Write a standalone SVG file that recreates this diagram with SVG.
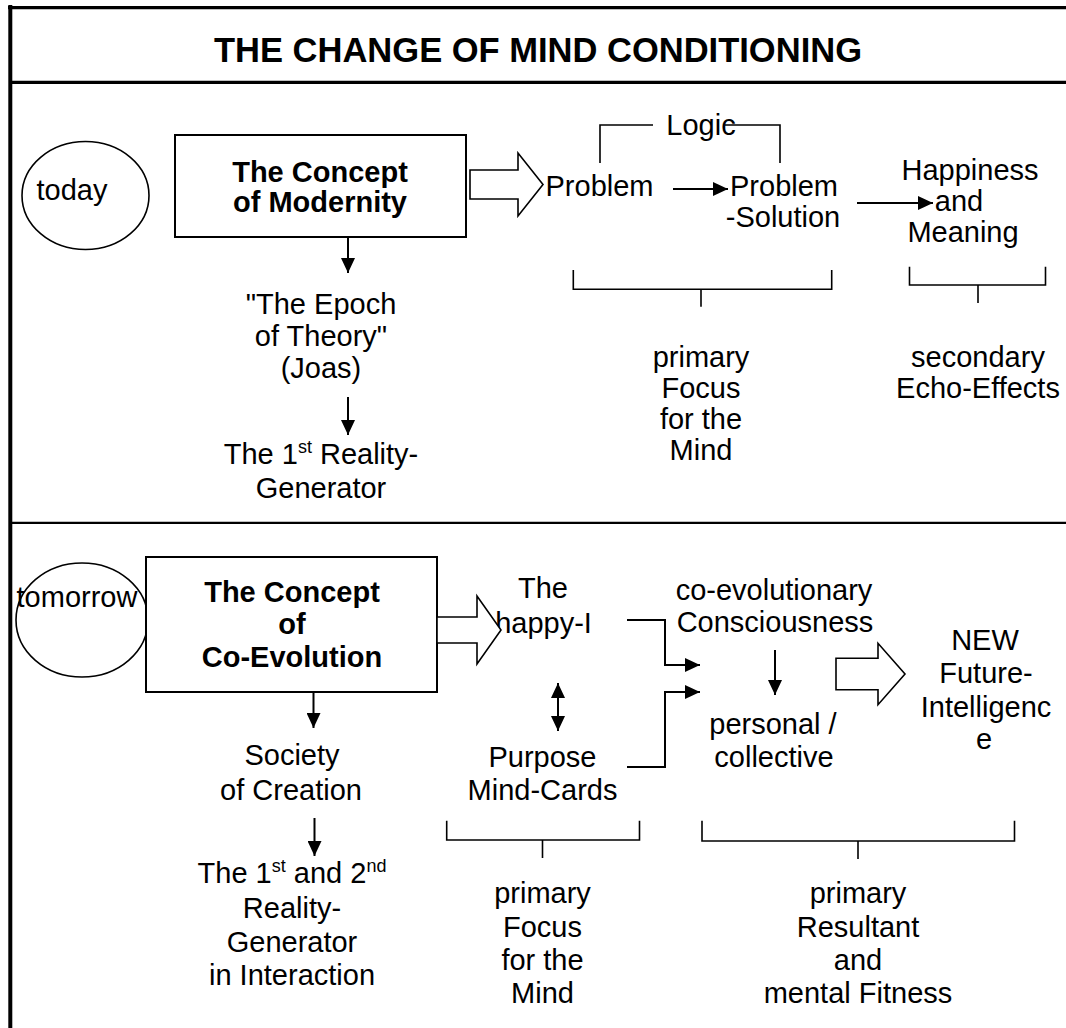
<svg xmlns="http://www.w3.org/2000/svg" width="1066" height="1028" viewBox="0 0 1066 1028">
<defs>
<style>
text{font-family:"Liberation Sans",Arial,sans-serif;font-size:29px;fill:#000;text-anchor:middle}
.b{font-weight:bold}
.t{font-weight:bold;font-size:35px}
.sup{font-size:18px}
.ln{fill:none;stroke:#000;stroke-width:2}
.br{fill:none;stroke:#000;stroke-width:1.6}
.fat{fill:#fff;stroke:#000;stroke-width:1.6}
.node{fill:#fff;stroke:#000;stroke-width:2}
.circ{fill:#fff;stroke:#000;stroke-width:1.6}
.arr{fill:none;stroke:#000;stroke-width:2;marker-end:url(#ah)}
</style>
<marker id="ah" markerUnits="userSpaceOnUse" markerWidth="16" markerHeight="14" refX="15" refY="7" orient="auto">
<path d="M0,0 L15,7 L0,14 z" fill="#000"/>
</marker>
<marker id="ahs" markerUnits="userSpaceOnUse" markerWidth="16" markerHeight="14" refX="15" refY="7" orient="auto-start-reverse">
<path d="M0,0 L15,7 L0,14 z" fill="#000"/>
</marker>
</defs>
<rect width="1066" height="1028" fill="#fff"/>
<g id="frame">
<line x1="10.3" y1="5" x2="10.3" y2="1028" stroke="#000" stroke-width="4"/>
<line x1="8" y1="7.7" x2="1066" y2="7.7" stroke="#000" stroke-width="3.3"/>
<line x1="10" y1="82.3" x2="1066" y2="82.3" stroke="#000" stroke-width="3.3"/>
<line x1="10" y1="522.8" x2="1066" y2="522.8" stroke="#000" stroke-width="2.3"/>
</g>
<g id="title"><text class="t" x="538" y="62" textLength="648" lengthAdjust="spacingAndGlyphs">THE CHANGE OF MIND CONDITIONING</text></g>

<g id="today"><ellipse class="circ" cx="85.5" cy="195.5" rx="63.5" ry="54"/><text x="72" y="200">today</text></g>
<g id="modernity"><rect class="node" x="175" y="135" width="291" height="102"/><text class="b" x="320" y="182">The Concept</text><text class="b" x="320" y="212">of Modernity</text></g>
<g id="epoch"><text x="321" y="314">"The Epoch</text><text x="321" y="346">of Theory"</text><text x="321" y="378">(Joas)</text></g>
<g id="gen1"><text x="321" y="464">The 1<tspan class="sup" dy="-11">st</tspan><tspan dy="11"> Reality-</tspan></text><text x="321" y="498">Generator</text></g>
<g id="problem"><text x="599.5" y="196">Problem</text></g>
<g id="logic"><text x="701" y="135">Logic</text></g>
<g id="solution"><text x="784" y="196">Problem</text><text x="783" y="227">-Solution</text></g>
<g id="happiness"><text x="970" y="180">Happiness</text><text x="959" y="211">and</text><text x="963" y="242">Meaning</text></g>
<g id="focus1"><text x="701" y="367">primary</text><text x="701" y="398">Focus</text><text x="701" y="429">for the</text><text x="701" y="460">Mind</text></g>
<g id="echo"><text x="978" y="367">secondary</text><text x="978" y="398">Echo-Effects</text></g>

<g id="tomorrow"><ellipse class="circ" cx="82" cy="620" rx="66" ry="57"/><text x="77" y="607">tomorrow</text></g>
<g id="coevolution"><rect class="node" x="146" y="557" width="291" height="135"/><text class="b" x="292" y="602">The Concept</text><text class="b" x="292" y="634">of</text><text class="b" x="292" y="667">Co-Evolution</text></g>
<g id="society"><text x="292" y="765">Society</text><text x="291" y="800">of Creation</text></g>
<g id="gen2"><text x="292" y="883">The 1<tspan class="sup" dy="-11">st</tspan><tspan dy="11"> and 2</tspan><tspan class="sup" dy="-11">nd</tspan></text><text x="292" y="918">Reality-</text><text x="292" y="952">Generator</text><text x="292" y="985">in Interaction</text></g>
<g id="happyI"><text x="543" y="598">The</text><text x="543.5" y="633">happy-I</text></g>
<g id="purpose"><text x="542.5" y="767">Purpose</text><text x="542.5" y="800">Mind-Cards</text></g>
<g id="consciousness"><text x="774" y="600">co-evolutionary</text><text x="775" y="632">Consciousness</text></g>
<g id="personal"><text x="773" y="734">personal /</text><text x="774" y="767">collective</text></g>
<g id="future"><text x="985" y="650">NEW</text><text x="986" y="683">Future-</text><text x="986" y="717">Intelligenc</text><text x="984" y="749">e</text></g>
<g id="focus2"><text x="542.5" y="903">primary</text><text x="542.5" y="937">Focus</text><text x="542.5" y="970">for the</text><text x="542.5" y="1003">Mind</text></g>
<g id="resultant"><text x="858" y="903">primary</text><text x="858" y="937">Resultant</text><text x="858" y="970">and</text><text x="858" y="1003">mental Fitness</text></g>

<g id="connectors">
<polygon class="fat" points="470,170 518,170 518,153 543,184.5 518,216 518,199 470,199"/>
<line class="arr" x1="348" y1="237" x2="348" y2="273"/>
<line class="arr" x1="348" y1="397" x2="348" y2="435"/>
<line class="arr" x1="673" y1="189" x2="728" y2="189"/>
<line class="arr" x1="857" y1="203" x2="933" y2="203"/>
<polyline class="br" points="600,163 600,125 653,125"/>
<polyline class="br" points="725,125 780,125 780,163"/>
<path class="br" d="M573.3,270 V289.3 H831.7 V270 M701,289.3 V306.7"/>
<path class="br" d="M909.5,266.7 V285 H1045.5 V266.7 M978,285 V303"/>

<polygon class="fat" points="437,617 477,617 477,596 501,630 477,664 477,643 437,643"/>
<polygon class="fat" points="836,658.3 878,658.3 878,643.3 905,674 878,704.7 878,689.7 836,689.7"/>
<line class="arr" x1="313.5" y1="692" x2="313.5" y2="728"/>
<line class="arr" x1="314.5" y1="818" x2="314.5" y2="856"/>
<line x1="558" y1="683" x2="558" y2="731" stroke="#000" stroke-width="2" marker-start="url(#ahs)" marker-end="url(#ah)"/>
<polyline class="arr" points="627,620 665,620 665,665 700,665"/>
<polyline class="arr" points="627,767 665,767 665,692 700,692"/>
<line class="arr" x1="775" y1="650" x2="775" y2="695"/>
<path class="br" d="M446.7,820.7 V840 H639.5 V820.7 M542.5,840 V858"/>
<path class="br" d="M702,820.7 V841 H1014.5 V820.7 M858,841 V859"/>
</g>
</svg>
